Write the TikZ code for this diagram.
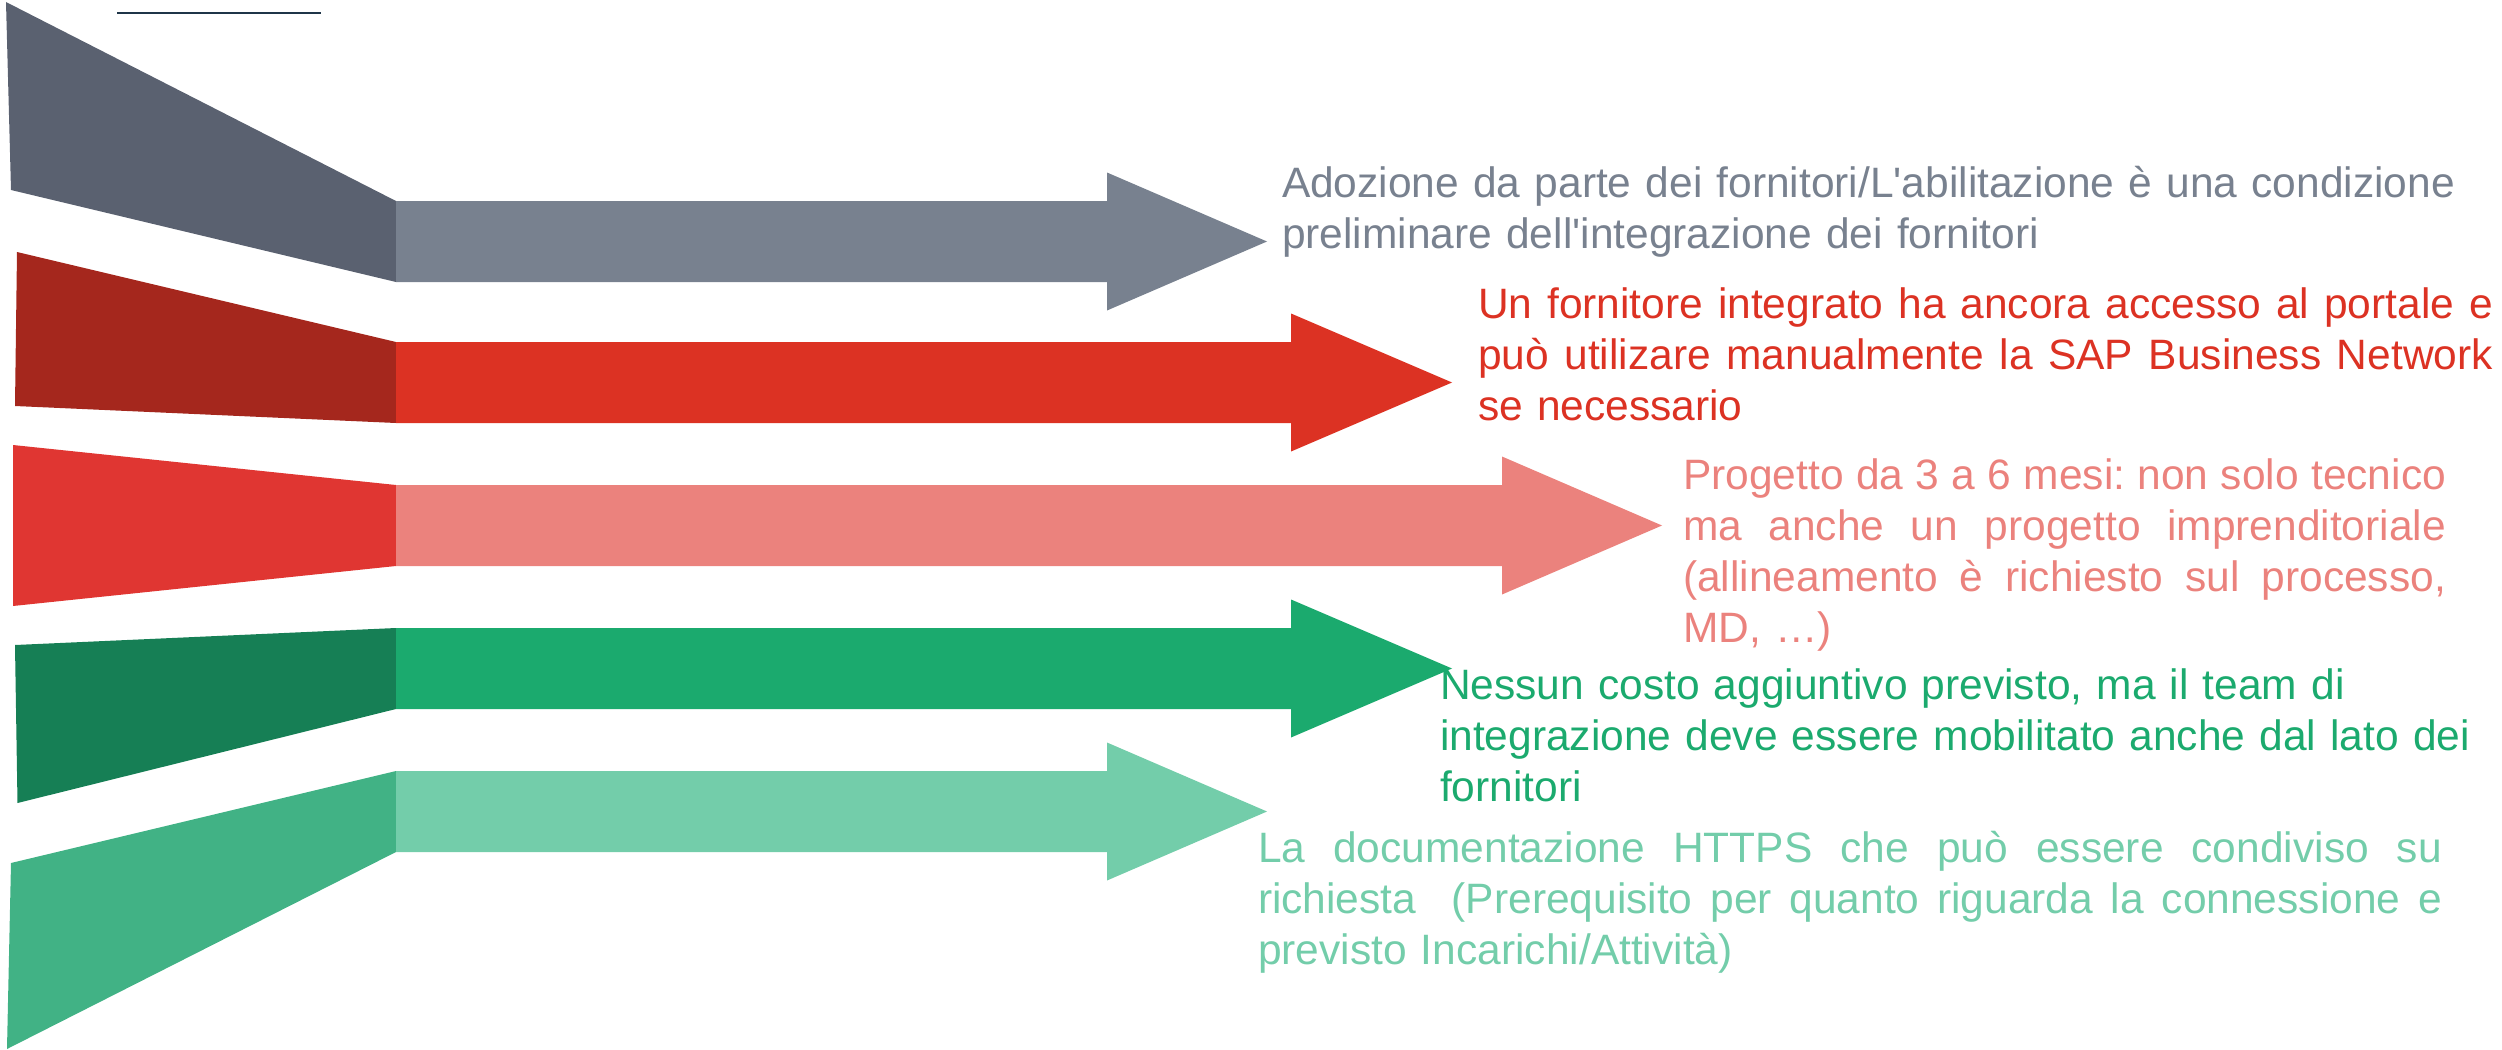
\documentclass[tikz,border=0pt]{standalone}
\usepackage{fontspec}
\setmainfont{Liberation Sans}[Ligatures=TeXOff]
\definecolor{gfun}{HTML}{5A6170}
\definecolor{garr}{HTML}{78818F}
\definecolor{rfun}{HTML}{A5271D}
\definecolor{rarr}{HTML}{DC3223}
\definecolor{pfun}{HTML}{E03632}
\definecolor{parr}{HTML}{EB827D}
\definecolor{dfun}{HTML}{167F55}
\definecolor{darr}{HTML}{1BAA6E}
\definecolor{lfun}{HTML}{41B285}
\definecolor{larr}{HTML}{73CDAA}
\definecolor{navy}{HTML}{1F3548}
\tikzset{
  lbl/.style={anchor=base west, inner sep=0pt, outer sep=0pt, align=left,
    font=\fontsize{42.5}{51}\selectfont\frenchspacing, text width=#1}
}
% justified line of given width
\newcommand{\jline}[2]{\makebox[#1][s]{\spaceskip=\fontdimen2\font plus 1fil\relax
  \xspaceskip=\spaceskip #2}}
% arrow: #1 center y, #2 head base x, #3 tip x, #4 colour
\newcommand{\fatarrow}[4]{%
  \fill[#4] (396,#1-40.5) -- (#2,#1-40.5) -- (#2,#1-69) -- (#3,#1) --
    (#2,#1+69) -- (#2,#1+40.5) -- (396,#1+40.5) -- cycle;}
\begin{document}
\begin{tikzpicture}[x=1pt,y=-1pt]
\useasboundingbox (0,0) rectangle (2502,1049);
% top line
\coordinate (tl1) at (117,13);
\coordinate (tl2) at (321,13);
\draw[navy, line width=2.5pt] (tl1) -- (tl2);
% funnels
\fill[gfun] (6,2) -- (396,201) -- (396,282) -- (11,190) -- cycle;
\fill[rfun] (17,252) -- (396,342) -- (396,423) -- (15,406) -- cycle;
\fill[pfun] (13,445) -- (396,485) -- (396,566) -- (13,606) -- cycle;
\fill[dfun] (15,645) -- (396,628) -- (396,709) -- (17.5,803) -- cycle;
\fill[lfun] (11,863) -- (396,771) -- (396,852) -- (7,1049) -- cycle;
% arrows
\fatarrow{241.5}{1107}{1267}{garr}
\fatarrow{382.5}{1291}{1452}{rarr}
\fatarrow{525.5}{1502}{1662}{parr}
\fatarrow{668.5}{1291}{1452}{darr}
\fatarrow{811.5}{1107}{1267}{larr}
% labels
\node[lbl=1200pt, text=garr] (t1) at (1282,197)
  {Adozione da parte dei fornitori/L'abilitazione è una condizione\\
   preliminare dell'integrazione dei fornitori};
\node[lbl=1015pt, text=rarr] (t2) at (1478,318)
  {\jline{1015pt}{Un fornitore integrato ha ancora accesso al portale e}\\
   \jline{1015pt}{può utilizare manualmente la SAP Business Network}\\
   se necessario};
\node[lbl=763pt, text=parr] (t3) at (1683,489)
  {\jline{763pt}{Progetto da 3 a 6 mesi: non solo tecnico}\\
   \jline{763pt}{ma anche un progetto imprenditoriale}\\
   \jline{763pt}{(allineamento è richiesto sul processo,}\\
   MD, …)};
\node[lbl=1060pt, text=darr] (t4) at (1440,699)
  {Nessun costo aggiuntivo previsto, ma il team di\\
   integrazione deve essere mobilitato anche dal lato dei\\
   fornitori};
\node[lbl=1184pt, text=larr] (t5) at (1258,862)
  {\jline{1184pt}{La documentazione HTTPS che può essere condiviso su}\\
   \jline{1184pt}{richiesta\ \ (Prerequisito per quanto riguarda la connessione e}\\
   previsto Incarichi/Attività)};
\end{tikzpicture}
\end{document}
